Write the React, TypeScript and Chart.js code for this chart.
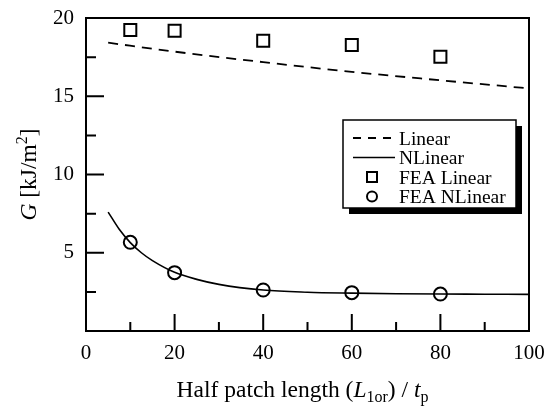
import React, { useEffect, useRef } from "react";
import { Chart, registerables } from "chart.js";

Chart.register(...registerables);

// ---- data ----
const linearX = [5, 20, 40, 60, 80, 100];
const linearY = [18.42, 17.85, 17.18, 16.56, 16.02, 15.5];

const nlinearX = [5, 7.5, 10, 12.5, 15, 20, 25, 30, 40, 50, 60, 70, 80, 90, 100];
const nlinearY = [7.6, 6.5, 5.65, 5.0, 4.5, 3.75, 3.3, 2.98, 2.62, 2.48, 2.42, 2.38, 2.36, 2.35, 2.34];

const feaX = [10, 20, 40, 60, 80];
const feaLinearY = [19.23, 19.19, 18.55, 18.27, 17.53];
const feaNLinearY = [5.67, 3.73, 2.62, 2.45, 2.36];

const xMajorTicks = [0, 20, 40, 60, 80, 100];
const xMinorTicks = [10, 30, 50, 70, 90];
const yMajorTicks = [5, 10, 15, 20];
const yMinorTicks = [2.5, 7.5, 12.5, 17.5];
const xTickLabels = ["0", "20", "40", "60", "80", "100"];
const yTickLabels = ["5", "10", "15", "20"];

const legendLabels = ["Linear", "NLinear", "FEA Linear", "FEA NLinear"];

const SERIF = "'Liberation Serif', 'Times New Roman', serif";
const TITLE_SIZE = 23.5;
const SUB_SIZE = 16;

type Seg = { t: string; italic?: boolean; size?: number; dy?: number };

function drawRich(ctx: CanvasRenderingContext2D, segs: Seg[], cx: number, baseY: number) {
  const fontFor = (s: Seg) => `${s.italic ? "italic " : ""}${s.size ?? TITLE_SIZE}px ${SERIF}`;
  let total = 0;
  for (const s of segs) {
    ctx.font = fontFor(s);
    total += ctx.measureText(s.t).width;
  }
  let x = cx - total / 2;
  ctx.textBaseline = "alphabetic";
  ctx.textAlign = "left";
  for (const s of segs) {
    ctx.font = fontFor(s);
    ctx.fillText(s.t, x, baseY + (s.dy ?? 0));
    x += ctx.measureText(s.t).width;
  }
}

const decorPlugin = {
  id: "decor",
  afterDatasetsDraw(chart: any) {
    const ctx: CanvasRenderingContext2D = chart.ctx;
    const { left, right, top, bottom } = chart.chartArea;
    const xs = chart.scales.x;
    const ys = chart.scales.y;
    ctx.save();
    ctx.strokeStyle = "#000";
    ctx.fillStyle = "#000";
    ctx.lineWidth = 2;
    ctx.setLineDash([]);
    // inward ticks
    ctx.beginPath();
    for (const v of xMajorTicks) {
      const px = xs.getPixelForValue(v);
      ctx.moveTo(px, bottom);
      ctx.lineTo(px, bottom - 17);
    }
    for (const v of xMinorTicks) {
      const px = xs.getPixelForValue(v);
      ctx.moveTo(px, bottom);
      ctx.lineTo(px, bottom - 9);
    }
    for (const v of yMajorTicks) {
      const py = ys.getPixelForValue(v);
      ctx.moveTo(left, py);
      ctx.lineTo(left + 18, py);
    }
    for (const v of yMinorTicks) {
      const py = ys.getPixelForValue(v);
      ctx.moveTo(left, py);
      ctx.lineTo(left + 10, py);
    }
    ctx.stroke();
    // frame
    ctx.strokeRect(left, top, right - left, bottom - top);

    // tick labels
    ctx.font = `21px ${SERIF}`;
    ctx.fillStyle = "#000";
    ctx.textAlign = "center";
    ctx.textBaseline = "middle";
    xMajorTicks.forEach((v, i) => {
      ctx.fillText(xTickLabels[i], xs.getPixelForValue(v), bottom + 22);
    });
    ctx.textAlign = "right";
    yMajorTicks.forEach((v, i) => {
      ctx.fillText(yTickLabels[i], left - 12, ys.getPixelForValue(v));
    });

    // legend
    const lx = right - 186;
    const ly = top + 102;
    const lw = 173;
    const lh = 88;
    ctx.fillStyle = "#000";
    ctx.fillRect(lx + 6, ly + 6, lw, lh);
    ctx.fillStyle = "#fff";
    ctx.fillRect(lx, ly, lw, lh);
    ctx.lineWidth = 1.5;
    ctx.strokeStyle = "#000";
    ctx.strokeRect(lx, ly, lw, lh);

    const rowStep = 19.5;
    const rowCenter = (i: number) => ly + 18 + i * rowStep;
    const sx0 = lx + 10;
    const sx1 = lx + 52;
    const scx = lx + 29;
    ctx.lineWidth = 1.8;
    ctx.setLineDash([8, 7]);
    ctx.beginPath();
    ctx.moveTo(sx0, rowCenter(0));
    ctx.lineTo(sx1, rowCenter(0));
    ctx.stroke();
    ctx.setLineDash([]);
    ctx.lineWidth = 1.6;
    ctx.beginPath();
    ctx.moveTo(sx0, rowCenter(1));
    ctx.lineTo(sx1, rowCenter(1));
    ctx.stroke();
    ctx.lineWidth = 2;
    ctx.strokeRect(scx - 5, rowCenter(2) - 5, 10, 10);
    ctx.beginPath();
    ctx.arc(scx, rowCenter(3), 5, 0, Math.PI * 2);
    ctx.stroke();

    ctx.fillStyle = "#000";
    ctx.font = `19.5px ${SERIF}`;
    ctx.textAlign = "left";
    ctx.textBaseline = "alphabetic";
    legendLabels.forEach((lab, i) => {
      ctx.fillText(lab, lx + 56, rowCenter(i) + 6.5);
    });

    // x title
    const cx = (left + right) / 2;
    drawRich(
      ctx,
      [
        { t: "Half patch length (" },
        { t: "L", italic: true },
        { t: "1or", size: SUB_SIZE, dy: 5 },
        { t: ") / " },
        { t: "t", italic: true },
        { t: "p", size: SUB_SIZE, dy: 5 },
      ],
      cx - 5,
      bottom + 66
    );

    // y title
    ctx.save();
    ctx.translate(left - 50, (top + bottom) / 2);
    ctx.rotate(-Math.PI / 2);
    drawRich(
      ctx,
      [
        { t: "G", italic: true },
        { t: " [kJ/m" },
        { t: "2", size: SUB_SIZE, dy: -9 },
        { t: "]" },
      ],
      0,
      0
    );
    ctx.restore();
    ctx.restore();
  },
};

export default function App() {
  const ref = useRef<HTMLCanvasElement | null>(null);
  useEffect(() => {
    document.body.style.margin = "0";
    document.body.style.overflow = "hidden";
    const canvas = ref.current;
    if (!canvas) return;
    const toXY = (xs: number[], ys: number[]) => xs.map((x, i) => ({ x, y: ys[i] }));
    const chart = new Chart(canvas, {
      type: "line",
      data: {
        datasets: [
          {
            label: legendLabels[0],
            data: toXY(linearX, linearY),
            borderColor: "#000",
            borderWidth: 1.8,
            borderDash: [10, 7],
            pointRadius: 0,
            cubicInterpolationMode: "monotone",
            fill: false,
          },
          {
            label: legendLabels[1],
            data: toXY(nlinearX, nlinearY),
            borderColor: "#000",
            borderWidth: 1.6,
            pointRadius: 0,
            cubicInterpolationMode: "monotone",
            fill: false,
          },
          {
            label: legendLabels[2],
            data: toXY(feaX, feaLinearY),
            showLine: false,
            pointStyle: "rect",
            pointRadius: 8.5,
            pointBorderWidth: 2,
            pointBorderColor: "#000",
            pointBackgroundColor: "rgba(0,0,0,0)",
          },
          {
            label: legendLabels[3],
            data: toXY(feaX, feaNLinearY),
            showLine: false,
            pointStyle: "circle",
            pointRadius: 6.5,
            pointBorderWidth: 2,
            pointBorderColor: "#000",
            pointBackgroundColor: "rgba(0,0,0,0)",
          },
        ],
      },
      options: {
        responsive: false,
        animation: false,
        layout: { padding: { left: 86, top: 18, right: 18, bottom: 79 } },
        plugins: {
          legend: { display: false },
          tooltip: { enabled: false },
        },
        scales: {
          x: { type: "linear", display: false, min: 0, max: 100 },
          y: { type: "linear", display: false, min: 0, max: 20 },
        },
      },
      plugins: [decorPlugin],
    } as any);
    return () => chart.destroy();
  }, []);
  return (
    <div style={{ width: 547, height: 410 }}>
      <canvas ref={ref} width={547} height={410} style={{ display: "block" }} />
    </div>
  );
}
